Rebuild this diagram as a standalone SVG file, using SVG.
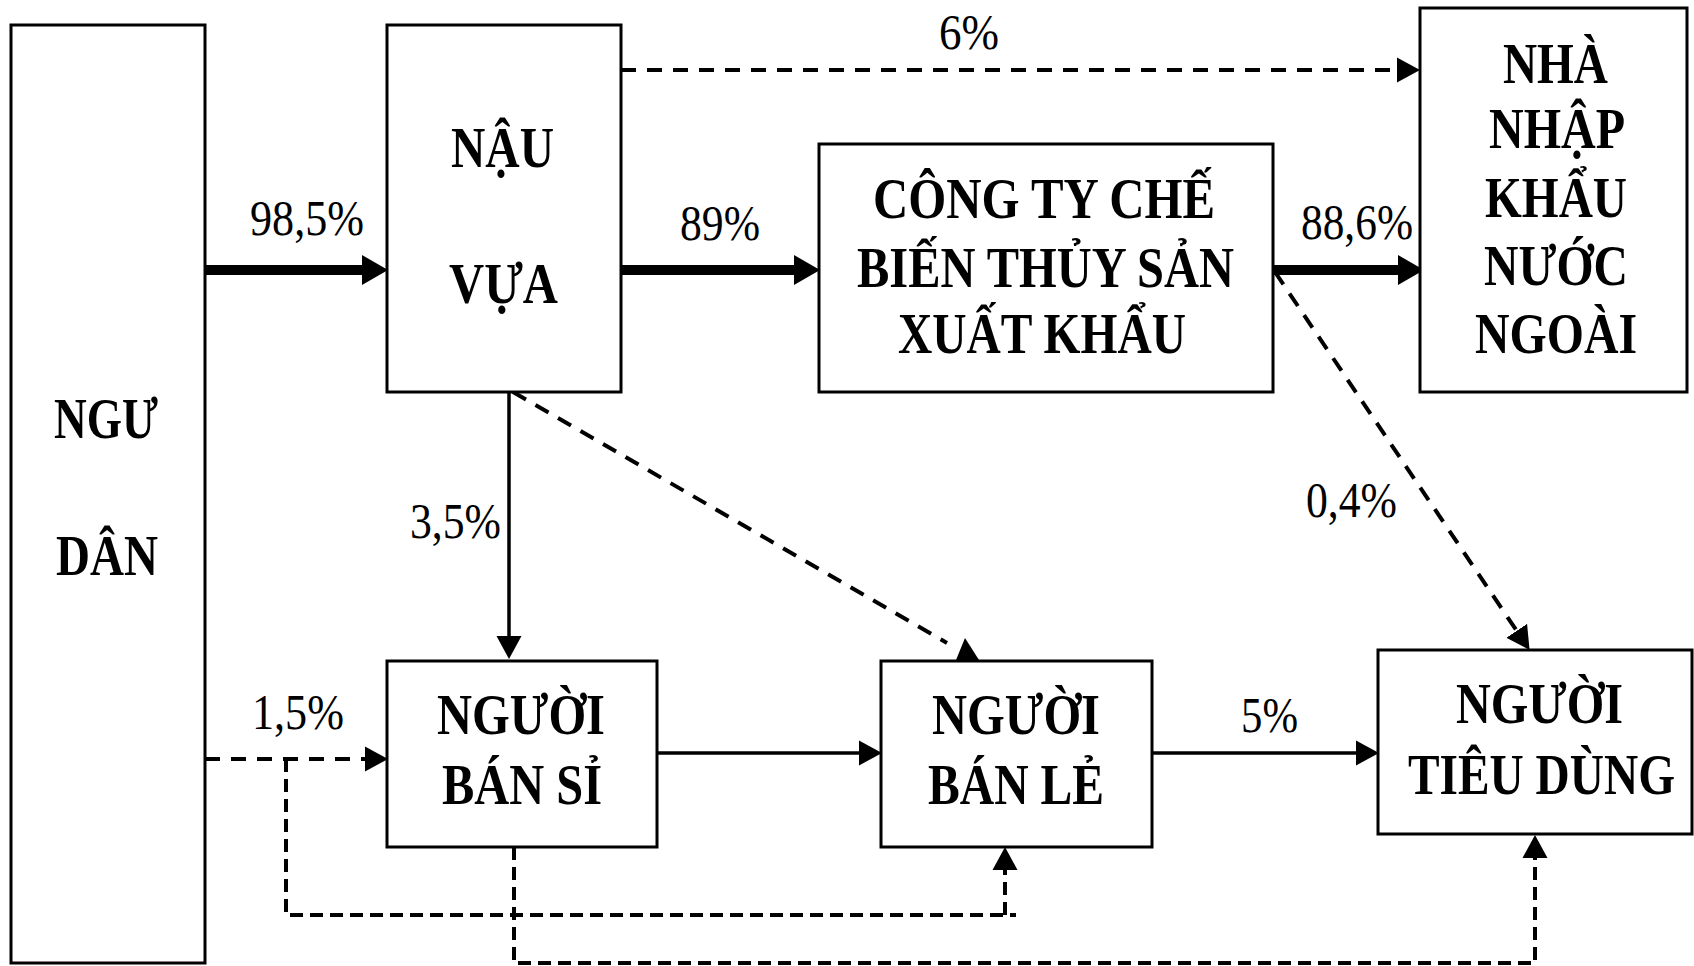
<svg xmlns="http://www.w3.org/2000/svg" width="1694" height="966" viewBox="0 0 1694 966">
<style>
.box{fill:#fff;stroke:#000;stroke-width:3}
.nt{font-family:"Liberation Serif","Times New Roman",serif;font-weight:bold;font-size:56px;fill:#000}
.lb{font-family:"Liberation Serif","Times New Roman",serif;font-size:50px;fill:#000}
.thick{fill:none;stroke:#000;stroke-width:10}
.thin{fill:none;stroke:#000;stroke-width:3.5}
.dash{fill:none;stroke:#000;stroke-width:4;stroke-dasharray:15 11}
.dash2{fill:none;stroke:#000;stroke-width:4;stroke-dasharray:13 7}
</style>
<defs>
<marker id="big" markerUnits="userSpaceOnUse" viewBox="0 -16 28 32" refX="0" refY="0" markerWidth="28" markerHeight="32" orient="auto"><path d="M0,-15 L26,0 L0,15 z" fill="#000"/></marker>
<marker id="sm" markerUnits="userSpaceOnUse" viewBox="0 -14 26 28" refX="0" refY="0" markerWidth="26" markerHeight="28" orient="auto"><path d="M0,-12.5 L23,0 L0,12.5 z" fill="#000"/></marker>
</defs>
<rect width="1694" height="966" fill="#fff"/>

<g id="connectors">
<path class="thick" d="M205,270 H362" marker-end="url(#big)"/>
<path class="thick" d="M621,270 H794" marker-end="url(#big)"/>
<path class="thick" d="M1273,270 H1398" marker-end="url(#big)"/>
<path class="dash" d="M621,70 H1397" marker-end="url(#sm)"/>
<path class="dash" d="M1275,272 L1516.7,630.8" marker-end="url(#sm)"/>
<path class="dash" d="M513,392 L947,643"/>
<polygon points="965,638 979,660 956,660" fill="#000"/>
<path class="thin" d="M509,392 V636" marker-end="url(#sm)"/>
<path class="thin" d="M657,753 H859" marker-end="url(#sm)"/>
<path class="thin" d="M1152,753 H1356" marker-end="url(#sm)"/>
<path class="dash" d="M205,759 H365" marker-end="url(#sm)"/>
<path class="dash2" d="M286,759 V915 H1016"/>
<path class="dash2" d="M1005,915 V870" marker-end="url(#sm)"/>
<path class="dash2" d="M514,847 V963 H1535 V858" marker-end="url(#sm)"/>
<text class="lb" x="250" y="235" textLength="114" lengthAdjust="spacingAndGlyphs">98,5%</text>
<text class="lb" x="939" y="49" textLength="60" lengthAdjust="spacingAndGlyphs">6%</text>
<text class="lb" x="680" y="240" textLength="80" lengthAdjust="spacingAndGlyphs">89%</text>
<text class="lb" x="1301" y="239" textLength="112" lengthAdjust="spacingAndGlyphs">88,6%</text>
<text class="lb" x="410" y="538" textLength="91" lengthAdjust="spacingAndGlyphs">3,5%</text>
<text class="lb" x="252" y="729" textLength="92" lengthAdjust="spacingAndGlyphs">1,5%</text>
<text class="lb" x="1306" y="517" textLength="91" lengthAdjust="spacingAndGlyphs">0,4%</text>
<text class="lb" x="1241" y="732" textLength="57" lengthAdjust="spacingAndGlyphs">5%</text>
</g>

<g id="ngu-dan">
<rect class="box" x="11" y="25" width="194" height="938"/>
<text class="nt" x="54" y="438" textLength="104" lengthAdjust="spacingAndGlyphs">NGƯ</text>
<text class="nt" x="56" y="575" textLength="102" lengthAdjust="spacingAndGlyphs">DÂN</text>
</g>

<g id="nau-vua">
<rect class="box" x="387" y="25" width="234" height="367"/>
<text class="nt" x="451" y="167" textLength="103" lengthAdjust="spacingAndGlyphs">NẬU</text>
<text class="nt" x="449" y="303" textLength="109" lengthAdjust="spacingAndGlyphs">VỰA</text>
</g>

<g id="cong-ty">
<rect class="box" x="819" y="144" width="454" height="248"/>
<text class="nt" x="873" y="218" textLength="342" lengthAdjust="spacingAndGlyphs">CÔNG TY CHẾ</text>
<text class="nt" x="857" y="287" textLength="377" lengthAdjust="spacingAndGlyphs">BIẾN THỦY SẢN</text>
<text class="nt" x="898" y="353" textLength="288" lengthAdjust="spacingAndGlyphs">XUẤT KHẨU</text>
</g>

<g id="nha-nhap-khau">
<rect class="box" x="1420" y="8" width="267" height="384"/>
<text class="nt" x="1503" y="83" textLength="105" lengthAdjust="spacingAndGlyphs">NHÀ</text>
<text class="nt" x="1489" y="148" textLength="136" lengthAdjust="spacingAndGlyphs">NHẬP</text>
<text class="nt" x="1485" y="217" textLength="142" lengthAdjust="spacingAndGlyphs">KHẨU</text>
<text class="nt" x="1484" y="285" textLength="144" lengthAdjust="spacingAndGlyphs">NƯỚC</text>
<text class="nt" x="1475" y="353" textLength="162" lengthAdjust="spacingAndGlyphs">NGOÀI</text>
</g>

<g id="ban-si">
<rect class="box" x="387" y="661" width="270" height="186"/>
<text class="nt" x="437" y="734" textLength="168" lengthAdjust="spacingAndGlyphs">NGƯỜI</text>
<text class="nt" x="442" y="804" textLength="160" lengthAdjust="spacingAndGlyphs">BÁN SỈ</text>
</g>

<g id="ban-le">
<rect class="box" x="881" y="661" width="271" height="186"/>
<text class="nt" x="932" y="734" textLength="168" lengthAdjust="spacingAndGlyphs">NGƯỜI</text>
<text class="nt" x="928" y="804" textLength="176" lengthAdjust="spacingAndGlyphs">BÁN LẺ</text>
</g>

<g id="tieu-dung">
<rect class="box" x="1378" y="650" width="314" height="184"/>
<text class="nt" x="1456" y="723" textLength="167" lengthAdjust="spacingAndGlyphs">NGƯỜI</text>
<text class="nt" x="1408" y="794" textLength="267" lengthAdjust="spacingAndGlyphs">TIÊU DÙNG</text>
</g>
</svg>
